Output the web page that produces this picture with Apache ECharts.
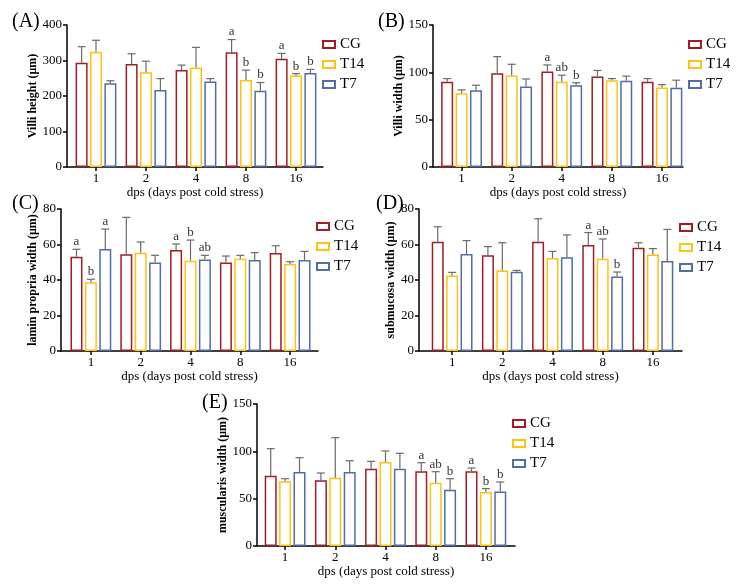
<!DOCTYPE html>
<html>
<head>
<meta charset="utf-8">
<script src="https://cdn.jsdelivr.net/npm/echarts@6/dist/echarts.min.js"></script>
<style>
  html, body { margin: 0; padding: 0; background: #fff; }
  #main { width: 739px; height: 585px; }
</style>
</head>
<body>
<div id="main"></div>
<script>
// categories and groups
const days = ['1', '2', '4', '8', '16'];
const groups = ['CG', 'T14', 'T7'];
const colors = ['#A21C22', '#FFC20E', '#4E6DA9'];

// (A) villi height: means and SD, rows = CG, T14, T7
const heightMean = [[294, 290, 273, 323, 305], [325, 267, 280, 245, 258], [236, 217, 241, 215, 265]];
const heightSd = [[45, 29, 14, 36, 15], [32, 31, 57, 28, 5], [7, 32, 8, 23, 10]];
const heightLetters = [['', '', '', 'a', 'a'], ['', '', '', 'b', 'b'], ['', '', '', 'b', 'b']];

// (B) villi width
const widthMean = [[90, 99, 101, 95.5, 90], [78, 96.6, 90, 91.7, 84], [81, 85, 86.4, 91, 83.6]];
const widthSd = [[3.4, 17.6, 6.8, 6.5, 3.4], [3.5, 11.9, 7, 1.7, 3], [5.4, 8, 2.6, 5, 8.1]];
const widthLetters = [['', '', 'a', '', ''], ['', '', 'ab', '', ''], ['', '', 'b', '', '']];

// (C) lamina propria width
const laminaMean = [[53.1, 54.5, 56.9, 49.8, 55.2], [38.7, 55.4, 50.9, 52, 49], [57.5, 49.8, 51.6, 51.3, 51.3]];
const laminaSd = [[4.2, 20.8, 3.4, 3.7, 4.1], [1.7, 6, 11.6, 1.9, 1.3], [11.2, 4.1, 2.3, 4.1, 4.8]];
const laminaLetters = [['a', '', 'a', '', ''], ['b', '', 'b', '', ''], ['a', '', 'ab', '', '']];

// (D) submucosa width
const submucosaMean = [[61.6, 54, 61.6, 59.7, 58.2], [42.6, 45.4, 52.4, 52, 54.3], [54.6, 44.7, 52.8, 42, 50.7]];
const submucosaSd = [[8.4, 4.8, 12.9, 7, 2.8], [1.7, 15.6, 3.7, 11.1, 3.4], [7.6, 0.7, 12.6, 2.5, 17.8]];
const submucosaLetters = [['', '', '', 'a', ''], ['', '', '', 'ab', ''], ['', '', '', 'b', '']];

// (E) muscularis width
const muscularisMean = [[74.3, 69.4, 81.7, 78.9, 78.9], [68.3, 72.2, 88.7, 66.9, 57], [78.2, 78.2, 81.7, 59.5, 57.7]];
const muscularisSd = [[28.5, 7.7, 7.7, 9.1, 3.5], [2.8, 42.2, 11.7, 11.6, 3.6], [15.1, 11.9, 16.2, 11.6, 9.9]];
const muscularisLetters = [['', '', '', 'a', 'a'], ['', '', '', 'ab', 'b'], ['', '', '', 'b', 'b']];

const xName = 'dps (days post cold stress)';
const font = '"Liberation Serif", "Times New Roman", serif';

const panels = [
  { tag: '(A)', yName: 'Villi height (μm)', max: 400, interval: 100, mean: heightMean, sd: heightSd, letters: heightLetters,
    grid: { left: 67, top: 25, width: 256, height: 142 }, xmin: -0.58, xmax: 4.54, nameGap: 25,
    legend: { left: 322, top: 37 }, tagPos: [12, 22] },
  { tag: '(B)', yName: 'Villi width (μm)', max: 150, interval: 50, mean: widthMean, sd: widthSd, letters: widthLetters,
    grid: { left: 433, top: 25, width: 250, height: 142 }, xmin: -0.57, xmax: 4.42, nameGap: 23,
    legend: { left: 688, top: 37 }, tagPos: [378, 22] },
  { tag: '(C)', yName: 'lamin propria width (μm)', max: 80, interval: 20, mean: laminaMean, sd: laminaSd, letters: laminaLetters,
    grid: { left: 61, top: 209, width: 257, height: 142 }, xmin: -0.6, xmax: 4.56, nameGap: 21,
    legend: { left: 316, top: 219 }, tagPos: [12, 204] },
  { tag: '(D)', yName: 'submucosa width (μm)', max: 80, interval: 20, mean: submucosaMean, sd: submucosaSd, letters: submucosaLetters,
    grid: { left: 419, top: 209, width: 263, height: 142 }, xmin: -0.66, xmax: 4.58, nameGap: 14,
    legend: { left: 679, top: 220 }, tagPos: [376, 204] },
  { tag: '(E)', yName: 'muscularis width (μm)', max: 150, interval: 50, mean: muscularisMean, sd: muscularisSd, letters: muscularisLetters,
    grid: { left: 257, top: 404, width: 258, height: 142 }, xmin: -0.56, xmax: 4.58, nameGap: 22,
    legend: { left: 512, top: 416 }, tagPos: [202, 403] }
];

const barWidth = 12;
const barStep = 14.4; // barWidth + 20% gap

const grids = [], xAxes = [], yAxes = [], legends = [], series = [], graphics = [];

panels.forEach((p, pi) => {
  grids.push(Object.assign({ containLabel: false }, p.grid));

  xAxes.push({
    type: 'value', gridIndex: pi, min: p.xmin, max: p.xmax,
    name: xName, nameLocation: 'middle', nameGap: 14,
    nameTextStyle: { fontFamily: font, fontSize: 13, color: '#000' },
    axisLine: { show: true, onZero: false, lineStyle: { color: '#000', width: 1.5 } },
    axisTick: { show: true, length: 4, customValues: [0, 1, 2, 3, 4], lineStyle: { color: '#000', width: 1.5 } },
    axisLabel: { customValues: [0, 1, 2, 3, 4], margin: 5, fontFamily: font, fontSize: 13, color: '#000',
      formatter: v => days[Math.round(v)] },
    splitLine: { show: false }
  });

  yAxes.push({
    type: 'value', gridIndex: pi, min: 0, max: p.max, interval: p.interval,
    name: p.yName, nameLocation: 'middle', nameGap: p.nameGap,
    nameTextStyle: { fontFamily: font, fontSize: 12, fontWeight: 'bold', color: '#000' },
    axisLine: { show: true, onZero: false, lineStyle: { color: '#000', width: 1.5 } },
    axisTick: { show: true, length: 4, lineStyle: { color: '#000', width: 1.5 } },
    axisLabel: { margin: 5, fontFamily: font, fontSize: 13, color: '#000' },
    splitLine: { show: false }
  });

  legends.push({
    data: groups, orient: 'vertical', left: p.legend.left, top: p.legend.top,
    padding: 0, itemWidth: 12, itemHeight: 7, itemGap: 5, icon: 'rect',
    itemStyle: { borderWidth: 2 },
    textStyle: { fontFamily: font, fontSize: 15, color: '#000' },
    selectedMode: false
  });

  const rows = [];
  groups.forEach((g, k) => {
    series.push({
      name: g, type: 'bar', xAxisIndex: pi, yAxisIndex: pi,
      barWidth: barWidth, barGap: '20%',
      itemStyle: { color: '#fff', borderColor: colors[k], borderWidth: 1.5 },
      data: p.mean[k].map((v, i) => [i, v]),
      silent: true
    });
    p.mean[k].forEach((v, i) => {
      rows.push({ value: [i, v + p.sd[k][i], v, k], letter: p.letters[k][i] });
    });
  });

  series.push({
    type: 'custom', xAxisIndex: pi, yAxisIndex: pi, silent: true, z: 5,
    data: rows.map(r => r.value),
    renderItem: (params, api) => {
      const r = rows[params.dataIndex];
      const off = (api.value(3) - 1) * barStep;
      const base = api.coord([api.value(0), api.value(2)]);
      const top = api.coord([api.value(0), api.value(1)]);
      const x = base[0] + off;
      const lineStyle = { stroke: '#6b6b6b', lineWidth: 1.2 };
      const children = [
        { type: 'line', shape: { x1: x, y1: base[1], x2: x, y2: top[1] }, style: lineStyle },
        { type: 'line', shape: { x1: x - 4, y1: top[1], x2: x + 4, y2: top[1] }, style: lineStyle }
      ];
      if (r.letter) {
        children.push({
          type: 'text', x: x, y: top[1] - 1,
          style: { text: r.letter, textAlign: 'center', textVerticalAlign: 'bottom',
            font: '13px ' + font, fill: '#333' }
        });
      }
      return { type: 'group', children: children };
    }
  });

  graphics.push({
    type: 'text', left: p.tagPos[0], top: p.tagPos[1] - 10,
    style: { text: p.tag, font: '20px ' + font, fill: '#000' }
  });
});

const chart = echarts.init(document.getElementById('main'), null, { renderer: 'canvas' });
chart.setOption({
  backgroundColor: '#fff',
  animation: false,
  grid: grids,
  xAxis: xAxes,
  yAxis: yAxes,
  legend: legends,
  series: series,
  graphic: graphics
});
</script>
</body>
</html>
